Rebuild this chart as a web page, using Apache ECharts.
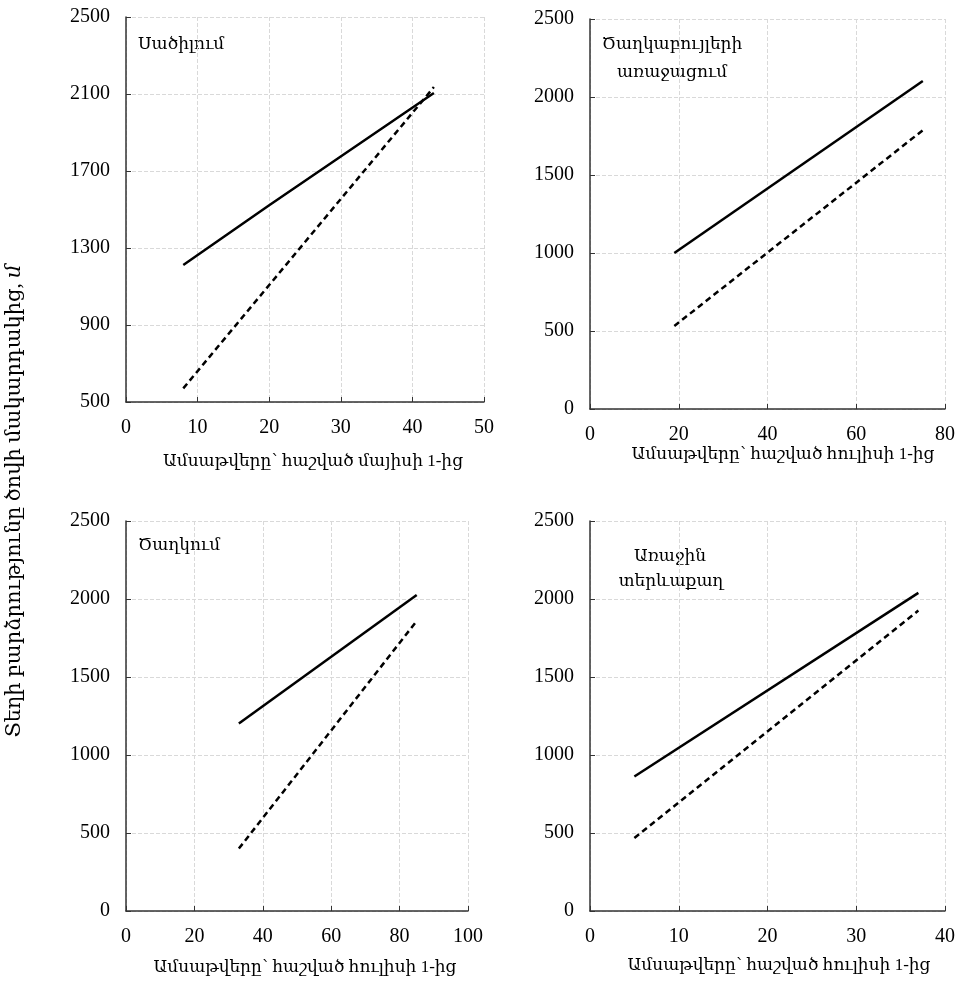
<!DOCTYPE html>
<html>
<head>
<meta charset="utf-8">
<script src="https://cdn.jsdelivr.net/npm/echarts@6/dist/echarts.min.js"></script>
<style>
html, body { margin: 0; padding: 0; background: #fff; }
#chart { width: 965px; height: 991px; }
</style>
</head>
<body>
<div id="chart"></div>
<script>
// Սածիլում (days from May 1)
const days1 = [8, 20, 43];
const solid1 = [1212, 1522, 2105];
const dashDays1 = [8, 43];
const dashed1 = [571, 2136];

// Ծաղկաբույլերի առաջացում (days from July 1)
const days2 = [19, 75];
const solid2 = [1000, 2103];
const dashed2 = [532, 1787];

// Ծաղկում
const days3 = [33, 85];
const solid3 = [1202, 2026];
const dashed3 = [400, 1859];

// Առաջին տերևաքաղ
const days4 = [5, 37];
const solid4 = [862, 2039];
const dashed4 = [468, 1926];

const xTitleMay = 'Ամսաթվերը՝ հաշված մայիսի 1-ից';
const xTitleJul = 'Ամսաթվերը՝ հաշված հուլիսի 1-ից';
const yTitle = 'Տեղի բարձրությունը ծովի մակարդակից, ';

const serif = "'Liberation Serif', 'DejaVu Serif', serif";
const fs = 17;

function pairs(xs, ys) {
  return xs.map((x, i) => [x, ys[i]]);
}

function axis(idx, min, max, step) {
  return {
    type: 'value', gridIndex: idx, min: min, max: max, interval: step,
    axisLine: { show: true, lineStyle: { color: '#333', width: 1.5 } },
    axisTick: { show: true, inside: true, length: 5, lineStyle: { color: '#333' } },
    axisLabel: { fontFamily: serif, fontSize: 20, color: '#000', margin: 16, formatter: v => String(v) },
    splitLine: { show: true, lineStyle: { color: '#d9d9d9', type: 'dashed' } }
  };
}

function line(idx, data, dashed) {
  return {
    type: 'line', xAxisIndex: idx, yAxisIndex: idx, data: data,
    symbol: 'none', silent: true,
    lineStyle: { color: '#000', width: 2.5, type: dashed ? [6, 4] : 'solid' }
  };
}

function label(text, x, y, align) {
  return {
    type: 'text', x: x, y: y,
    style: { text: text, font: fs + 'px ' + serif, fill: '#000', textAlign: align || 'center', textVerticalAlign: 'middle' }
  };
}

const chart = echarts.init(document.getElementById('chart'));

chart.setOption({
  animation: false,
  grid: [
    { left: 126, top: 17, width: 358, height: 385 },
    { left: 590, top: 19, width: 355, height: 390 },
    { left: 126, top: 521, width: 342, height: 390 },
    { left: 590, top: 521, width: 355, height: 390 }
  ],
  xAxis: [axis(0, 0, 50, 10), axis(1, 0, 80, 20), axis(2, 0, 100, 20), axis(3, 0, 40, 10)],
  yAxis: [axis(0, 500, 2500, 400), axis(1, 0, 2500, 500), axis(2, 0, 2500, 500), axis(3, 0, 2500, 500)],
  series: [
    line(0, pairs(days1, solid1), false),
    line(0, pairs(dashDays1, dashed1), true),
    line(1, pairs(days2, solid2), false),
    line(1, pairs(days2, dashed2), true),
    line(2, pairs(days3, solid3), false),
    line(2, pairs(days3, dashed3), true),
    line(3, pairs(days4, solid4), false),
    line(3, pairs(days4, dashed4), true)
  ],
  graphic: [
    label('Սածիլում', 138, 45, 'left'),
    label('Ծաղկաբույլերի', 672, 45),
    label('առաջացում', 672, 73),
    label('Ծաղկում', 138, 546, 'left'),
    label('Առաջին', 670, 557),
    label('տերևաքաղ', 671, 582),
    label(xTitleMay, 313, 462),
    label(xTitleJul, 783, 455),
    label(xTitleJul, 305, 968),
    label(xTitleJul, 779, 966),
    {
      type: 'text', x: 14, y: 501, rotation: Math.PI / 2,
      style: {
        text: '{a|' + yTitle + '}{b|մ}',
        textAlign: 'center', textVerticalAlign: 'middle',
        rich: {
          a: { fontFamily: serif, fontSize: 21, fill: '#000' },
          b: { fontFamily: serif, fontSize: 21, fontStyle: 'italic', fill: '#000' }
        }
      }
    }
  ]
});
</script>
</body>
</html>
